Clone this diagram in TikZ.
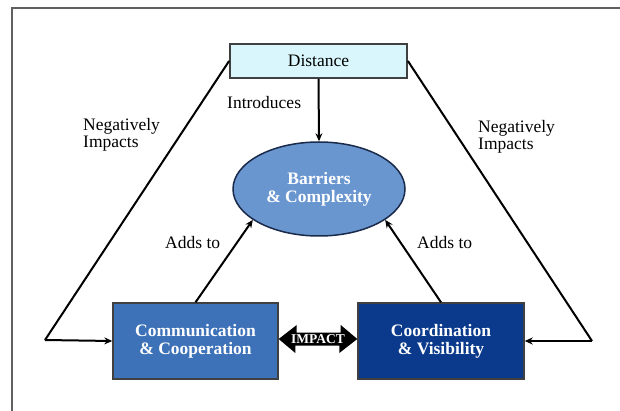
\documentclass[tikz,border=0pt]{standalone}
\usepackage{fontspec}
\setmainfont{Liberation Serif}
\usetikzlibrary{arrows.meta,calc,shapes.geometric}
\definecolor{distfill}{HTML}{D8F6FC}
\definecolor{commfill}{HTML}{3E72B8}
\definecolor{coordfill}{HTML}{0B3A8C}
\definecolor{ellfill}{HTML}{6A96D0}
\definecolor{ellline}{HTML}{1A2A4A}
\definecolor{boxline}{HTML}{404040}
\definecolor{framecol}{HTML}{606060}
\begin{document}
\begin{tikzpicture}[x=1pt,y=-1pt,
  lbl/.style={font=\fontsize{17.5}{17}\selectfont, inner sep=0pt, align=left},
  boxtext/.style={font=\bfseries\fontsize{17.5}{18}\selectfont, text=white, align=center},
  conn/.style={line width=2pt, -{Stealth[length=8pt,width=7pt]}},
  plain/.style={line width=2pt}
]
\useasboundingbox (0,0) rectangle (620,411);
\draw[framecol, line width=1.8pt] (12,8) rectangle (640,430);

\node[draw=boxline, line width=1.8pt, fill=distfill, minimum width=177pt, minimum height=34pt, inner sep=0pt,
      font=\fontsize{17.5}{17}\selectfont] (dist) at (318.5,61) {Distance};
\node[ellipse, draw=ellline, line width=1.5pt, fill=ellfill, minimum width=172pt, minimum height=94pt, inner sep=0pt, boxtext] (ell) at (319,189) {Barriers\\\& Complexity};
\node[draw=boxline, line width=1.4pt, fill=commfill, minimum width=165pt, minimum height=76pt, inner sep=0pt, boxtext] (comm) at (195.5,341) {Communication\\\& Cooperation};
\node[draw=boxline, line width=1.4pt, fill=coordfill, minimum width=166pt, minimum height=76pt, inner sep=0pt, boxtext] (coord) at (441,341) {Coordination\\\& Visibility};

\coordinate (cl) at (45,340);
\coordinate (cr) at (592,341);

% Negatively impacts lines
\draw[plain, line join=miter] (dist.west) -- (cl);
\draw[conn] (cl) -- (comm.west);
\draw[plain] (dist.east) -- (cr);
\draw[conn] (cr) -- (coord.east);

% Introduces / Adds to
\draw[conn] (dist.south) -- (ell.north);
\draw[conn] (comm.north) -- (ell.205);
\draw[conn] (coord.north) -- (ell.335);

% IMPACT double arrow
\fill[black] ($(comm.east)+(0,-2)$) -- ++(18,-14) -- ++(0,7.5) -- ++(44,0) -- ++(0,-7.5) -- ($(coord.west)+(0,-2)$)
  -- ++(-18,14) -- ++(0,-7.5) -- ++(-44,0) -- ++(0,7.5) -- cycle;
\node[font=\bfseries\fontsize{13.5}{13.5}\selectfont, text=white, inner sep=0pt] (impact) at ($(comm.east)!0.5!(coord.west)+(0,-1.5)$) {IMPACT};

% labels
\node[lbl, anchor=base west] (intro) at (227,109) {Introduces};
\node[lbl, anchor=base west] (negl) at (83,148) {Negatively\\Impacts};
\node[lbl, anchor=base west] (negr) at (478,150) {Negatively\\Impacts};
\node[lbl, anchor=base west] (addl) at (165,249) {Adds to};
\node[lbl, anchor=base west] (addr) at (417,249) {Adds to};
\end{tikzpicture}
\end{document}
